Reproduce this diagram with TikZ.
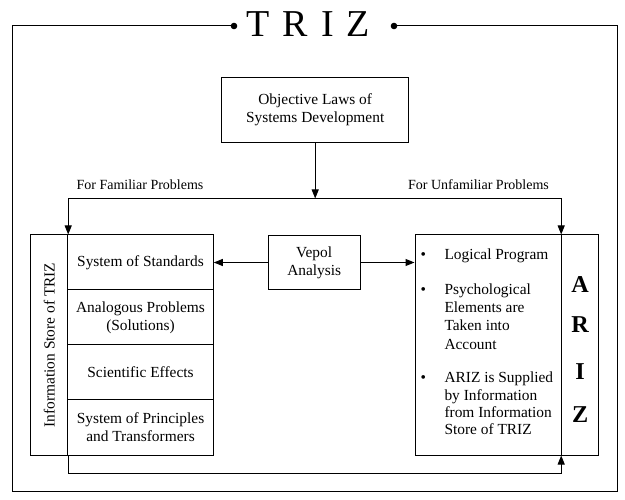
\documentclass[tikz,border=0pt]{standalone}
\usepackage{fontspec}
\setmainfont{Liberation Serif}
\usetikzlibrary{arrows.meta,calc}
\begin{document}
\begin{tikzpicture}[x=1pt,y=-1pt,
  line width=1pt,
  box/.style={draw,rectangle,inner sep=0pt,align=center,font=\fontsize{15.4}{18.3}\selectfont},
  arr/.style={-{Triangle[length=9pt,width=7pt]}},
  lbl/.style={font=\fontsize{14}{16}\selectfont,anchor=base,inner sep=0pt},
  itm/.style={anchor=base west,inner sep=0pt,font=\fontsize{15.4}{17.7}\selectfont},
  bul/.style={anchor=base,inner sep=0pt,font=\fontsize{15.4}{17.7}\selectfont},
  bigl/.style={anchor=base,inner sep=0pt,font=\fontsize{24.2}{26}\selectfont\bfseries},
  sec/.style={box,minimum width=145.6pt,minimum height=55pt}]
\useasboundingbox (0,0) rectangle (625,500);
% frame and title
\coordinate (dl) at (234,26);
\coordinate (dr) at (394,26);
\draw (dl) -- (12,26) -- (12,491) -- (617,491) -- (617,26) -- (dr);
\fill (dl) circle (3.3);
\fill (dr) circle (3.3);
\node[anchor=base,inner sep=0pt,font=\fontsize{38}{40}\selectfont] (title) at (308.3,36.7) {T\hspace{0.34em}R\hspace{0.34em}I\hspace{0.34em}Z};
% top box
\node[box,minimum width=187pt,minimum height=65.4pt] (obj) at (315.2,110) {Objective Laws of\\Systems Development};
% vepol
\node[box,minimum width=91.7pt,minimum height=53.6pt] (vepol) at (314.2,262.5) {Vepol\\Analysis};
% information store
\node[box,minimum width=37pt,minimum height=220pt] (strip) at (49.2,345) {};
\node[rotate=90,inner sep=0pt,font=\fontsize{15.4}{18.3}\selectfont] (stlabel) at (strip.center) {Information Store of TRIZ};
\node[sec] (s1) at (140.5,262.5) {System of Standards};
\node[sec] (s2) at (140.5,317.5) {Analogous Problems\\(Solutions)};
\node[sec] (s3) at (140.5,372.5) {Scientific Effects};
\node[sec] (s4) at (140.5,427.5) {System of Principles\\and Transformers};
% ARIZ
\node[box,minimum width=146.7pt,minimum height=220pt] (ariz) at (488.35,345) {};
\node[box,minimum width=37pt,minimum height=220pt] (arizcol) at (580.2,345) {};
\node[bul] (b1) at (423.3,260) {•};
\node[bul] (b2) at (423.3,295) {•};
\node[bul] (b3) at (423.3,382) {•};
\foreach \txt/\yy [count=\k] in {Logical Program/260, Psychological/295, Elements are/313, Taken into/331, Account/349, ARIZ is Supplied/382, by Information/400, from Information/417.5, Store of TRIZ/435}
  \node[itm] (line\k) at (444,\yy) {\txt};
\node[bigl] (lA) at (580.2,293) {A};
\node[bigl] (lR) at (580.2,333) {R};
\node[bigl] (lI) at (580.2,380) {I};
\node[bigl] (lZ) at (580.2,423) {Z};
% labels
\node[lbl] (fam) at (140,189.3) {For Familiar Problems};
\node[lbl] (unfam) at (478.5,189.3) {For Unfamiliar Problems};
% connectors
\path (obj.south) ++(0,55.3) coordinate (jn);
\draw[arr] (obj.south) -- (jn);
\draw[arr] (jn) -| (strip.north east);
\draw[arr] (jn) -| (arizcol.north west);
\draw[arr] (vepol.west) -- (s1.east);
\draw[arr] (vepol.east) -- (vepol.east -| ariz.west);
\draw[arr] (strip.south east) -- ++(0,18.3) -| (arizcol.south west);
\end{tikzpicture}
\end{document}
